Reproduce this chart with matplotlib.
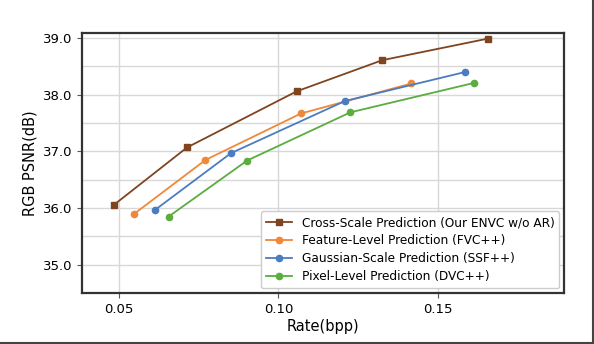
import matplotlib
matplotlib.use('Agg')
import matplotlib.pyplot as plt
from matplotlib.lines import Line2D
from matplotlib.ticker import MultipleLocator

# Data
labels = ['Cross-Scale Prediction (Our ENVC w/o AR)',
          'Feature-Level Prediction (FVC++)',
          'Gaussian-Scale Prediction (SSF++)',
          'Pixel-Level Prediction (DVC++)']

cross_rate = [0.0484, 0.0713, 0.1057, 0.1326, 0.1657]
cross_psnr = [36.06, 37.07, 38.06, 38.61, 38.99]

feature_rate = [0.0545, 0.0771, 0.1071, 0.1418]
feature_psnr = [35.89, 36.85, 37.67, 38.20]

gauss_rate = [0.0613, 0.0851, 0.1209, 0.1585]
gauss_psnr = [35.97, 36.97, 37.89, 38.40]

pixel_rate = [0.0655, 0.0902, 0.1226, 0.1615]
pixel_psnr = [35.85, 36.84, 37.69, 38.21]

colors = ['#7f4420', '#f0883a', '#4c7cc0', '#5aad3e']

fig = plt.figure(figsize=(5.94, 3.44), dpi=100)
ax = fig.add_axes([0.138, 0.148, 0.812, 0.756])

ax.plot(cross_rate, cross_psnr, color=colors[0], marker='s', markersize=4.5, linewidth=1.3, label=labels[0])
ax.plot(feature_rate, feature_psnr, color=colors[1], marker='o', markersize=4.5, linewidth=1.3, label=labels[1])
ax.plot(gauss_rate, gauss_psnr, color=colors[2], marker='o', markersize=4.5, linewidth=1.3, label=labels[2])
ax.plot(pixel_rate, pixel_psnr, color=colors[3], marker='o', markersize=4.5, linewidth=1.3, label=labels[3])

ax.set_xlim(0.0383, 0.1898)
ax.set_ylim(34.5, 39.09)
ax.set_xticks([0.05, 0.10, 0.15])
ax.set_xticklabels(['0.05', '0.10', '0.15'])
ax.set_yticks([35.0, 36.0, 37.0, 38.0, 39.0])
ax.set_yticklabels(['35.0', '36.0', '37.0', '38.0', '39.0'])
ax.yaxis.set_minor_locator(MultipleLocator(0.5))
ax.tick_params(axis='y', which='minor', length=0)
ax.tick_params(which='major', labelsize=9.5, length=3.5, color='#555555')

ax.grid(True, which='major', color='#d8d8d8', linewidth=1)
ax.grid(True, which='minor', axis='y', color='#d8d8d8', linewidth=1)
ax.set_axisbelow(True)

for s in ax.spines.values():
    s.set_linewidth(1.6)
    s.set_color('#333333')

ax.set_xlabel('Rate(bpp)', fontsize=10.5, labelpad=2)
ax.set_ylabel('RGB PSNR(dB)', fontsize=10.5, labelpad=4)

ax.legend(loc='lower right', fontsize=8.7, handlelength=2.2, borderaxespad=0.4,
          labelspacing=0.42, framealpha=1, edgecolor='#cccccc', fancybox=True)

# thin frame on right and bottom of the screenshot
fig.add_artist(Line2D([0.9985, 0.9985], [0, 1], transform=fig.transFigure, color='#444444', linewidth=1.5))
fig.add_artist(Line2D([0, 1], [0.0015, 0.0015], transform=fig.transFigure, color='#444444', linewidth=1.5))

fig.savefig('out.png', dpi=100)
